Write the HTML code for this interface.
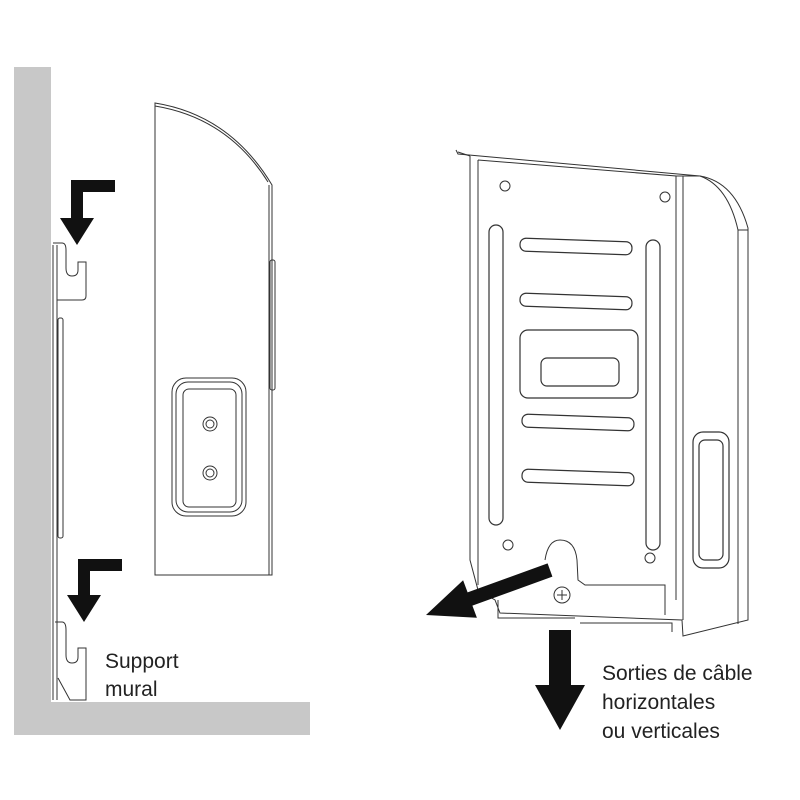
<!DOCTYPE html>
<html><head><meta charset="utf-8"><style>
html,body{margin:0;padding:0;background:#fff;}
svg{display:block;}
text{font-family:"Liberation Sans",sans-serif;font-size:21px;fill:#222;}
</style></head><body>
<svg width="800" height="800" viewBox="0 0 800 800" xmlns="http://www.w3.org/2000/svg">
<rect width="800" height="800" fill="#fff"/>
<rect x="14" y="67" width="37" height="668" fill="#c8c8c8"/>
<rect x="14" y="702" width="296" height="33" fill="#c8c8c8"/>
<g fill="none" stroke="#333" stroke-width="1">
<path d="M53 245 V700 M57 245 V700"/>
<rect x="58" y="318" width="5" height="220" rx="2"/>
<path d="M53 243 H62 Q66 243 66 250 V268 Q66 276 72 276 Q78 276 78 270 V262 H86 V296 Q86 300 82 300 H57"/>
<path d="M55 622 H62 Q66 622 66 630 V655 Q66 663 72 663 Q78 663 78 657 V648 H86 V700 H70 L58 678"/>
<path d="M155 103 V575 H272 V185 Q230 115 155 103 Z"/>
<path d="M155 106 Q228 118 268 182"/>
<path d="M269 185 V575"/>
<rect x="270" y="260" width="5" height="130" rx="2"/>
<rect x="172" y="378" width="74" height="138" rx="14"/>
<rect x="176" y="382" width="66" height="130" rx="12"/>
<rect x="183" y="389" width="53" height="118" rx="6"/>
<circle cx="210" cy="424" r="7"/><circle cx="210" cy="424" r="4"/>
<circle cx="210" cy="473" r="7"/><circle cx="210" cy="473" r="4"/>
<path d="M456 150 L458 154 L700 176 Q735 182 748 228 V620 L683 636 L682 620 L500 613 L495 600 L478 590 L470 560 V156"/>
<path d="M470 156 L458 152"/>
<path d="M478 160 L676 176 V600 M478 160 V585"/>
<path d="M683 176 V620 M676 176 L700 176"/>
<path d="M700 176 Q728 186 738 230 H748 M738 230 V624"/>
<g stroke-width="1.2">
<rect x="520" y="240" width="112" height="13" rx="6" transform="rotate(2 576 246)"/>
<rect x="520" y="295" width="112" height="13" rx="6" transform="rotate(2 576 301)"/>
<rect x="522" y="416" width="112" height="13" rx="6" transform="rotate(2 578 422)"/>
<rect x="522" y="471" width="112" height="13" rx="6" transform="rotate(2 578 477)"/>
<rect x="489" y="225" width="14" height="300" rx="7"/>
<rect x="646" y="240" width="14" height="310" rx="7"/>
<rect x="520" y="330" width="118" height="68" rx="8"/>
<rect x="541" y="358" width="78" height="28" rx="6"/>
<rect x="693" y="432" width="36" height="136" rx="10"/>
<rect x="699" y="440" width="24" height="120" rx="6"/>
</g>
<circle cx="505" cy="186" r="5"/><circle cx="665" cy="197" r="5"/>
<circle cx="508" cy="545" r="5"/><circle cx="650" cy="558" r="5"/>
<path d="M545 560 Q548 540 560 540 Q575 540 577 560 L578 580 L585 585 H665 V615"/>
<circle cx="562" cy="595" r="8"/>
<path d="M557 595 H567 M562 590 V600"/>
<path d="M498 600 V618 H575 M580 623 H672 V632"/>
</g>
<g fill="#111">
<path d="M115 180 V192 H83 V218 H94 L77 245 L60 218 H71 V180 Z"/>
<path d="M122 559 V571 H90 V595 H101 L84 622 L67 595 H78 V559 Z"/>
<path d="M552.4 576.6 L472.4 605.6 L476.9 617.8 L426 615 L463.1 580.2 L467.6 592.4 L547.6 563.4 Z"/>
<path d="M549 630 H571 V685 H585 L560 730 L535 685 H549 Z"/>
</g>
<text x="105" y="668">Support</text>
<text x="105" y="696">mural</text>
<text x="602" y="680">Sorties de câble</text>
<text x="602" y="709">horizontales</text>
<text x="602" y="738">ou verticales</text>
</svg>
</body></html>
